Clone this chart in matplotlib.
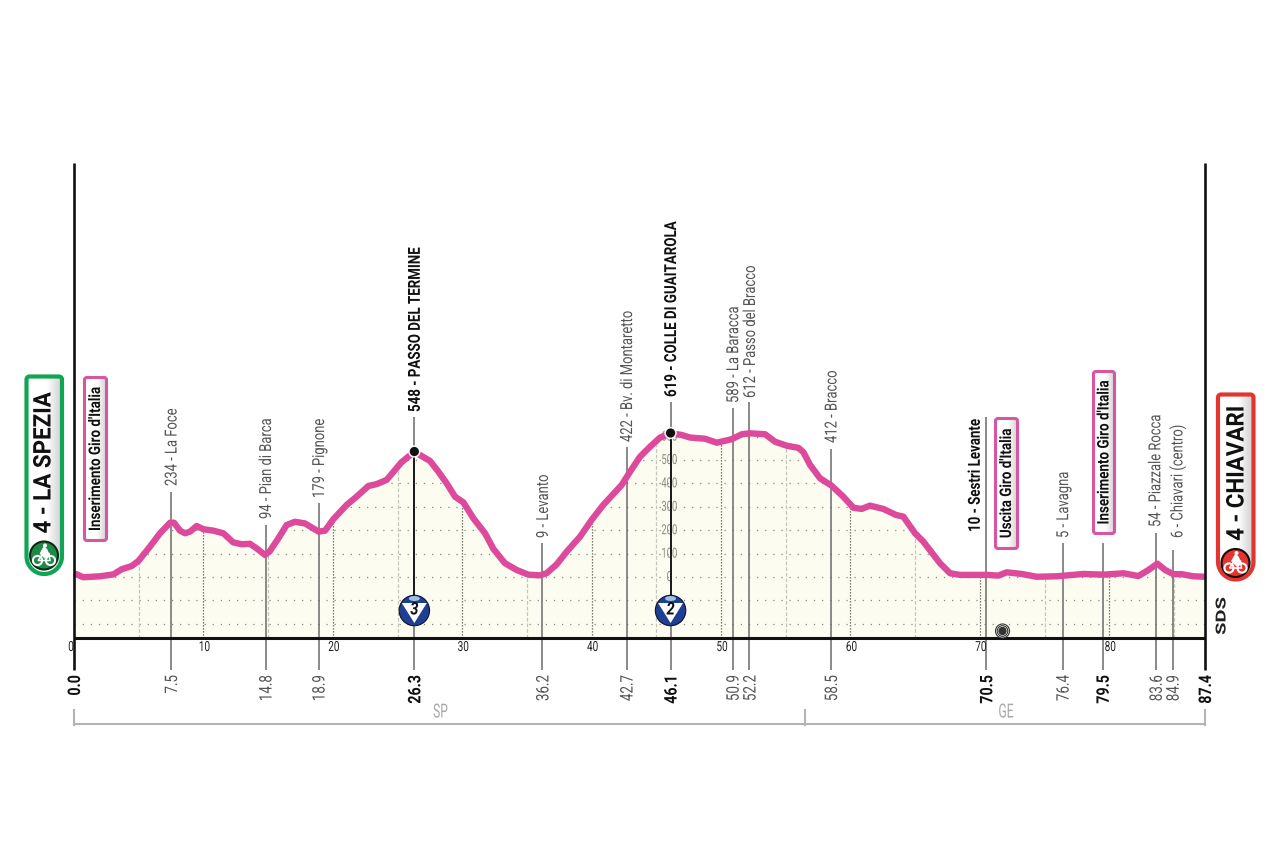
import numpy as np
import matplotlib
matplotlib.use("Agg")
import matplotlib.pyplot as plt
from matplotlib.patches import Circle, Polygon, FancyBboxPatch, Ellipse
from matplotlib.patheffects import AbstractPathEffect
from matplotlib.transforms import Affine2D, blended_transform_factory as blend

# ---- data -----------------------------------------------------------
profile_km = [0, .72, 2.0, 3.04, 3.68, 4.46, 4.97, 5.87, 6.65, 7.42, 7.73, 8.19, 8.58, 8.97, 9.48, 10.0, 10.77,
              11.54, 12.3, 12.96, 13.6, 14.1, 14.76, 15.14, 15.79, 16.43, 17.07, 17.85, 18.9, 19.4, 20.04,
              21.07, 21.85, 22.75, 23.39, 24.16, 25.3, 26.3, 26.74, 27.51, 28.16, 28.8, 29.45, 30.09, 30.86,
              31.76, 32.41, 33.3, 34.21, 35.11, 36.0, 36.52, 37.3, 38.07, 39.1, 40.0, 40.9, 42.32, 42.97,
              43.74, 44.52, 45.29, 46.11, 46.96, 47.6, 48.76, 49.67, 50.83, 51.6, 52.25, 53.41, 54.18, 55.08,
              55.98, 56.37, 56.88, 57.65, 58.55, 59.45, 60.23, 60.87, 61.51, 62.54, 63.53, 64.09, 64.99, 65.64,
              66.92, 67.7, 68.47, 70.53, 71.43, 72.08, 73.24, 74.4, 75.94, 78.0, 79.55, 81.1, 82.25, 83.03,
              83.72, 84.32, 84.96, 85.6, 86.5, 87.4]
profile_m = [16, -1, 3, 11, 33, 47, 68, 130, 187, 232, 232, 198, 187, 194, 218, 204, 198,
             187, 148, 140, 142, 123, 94, 111, 165, 222, 236, 229, 194, 198, 247,
             308, 344, 389, 397, 415, 490, 535, 521, 496, 450, 400, 343, 319, 251,
             187, 120, 59, 30, 10, 7, 16, 54, 108, 172, 244, 308, 393, 450,
             514, 557, 596, 614, 607, 596, 591, 574, 589, 610, 614, 610, 578, 561,
             552, 533, 479, 422, 390, 343, 296, 291, 305, 291, 265, 258, 187, 151,
             59, 16, 9, 9, 6, 20, 13, 1, 3, 13, 10, 16, 4, 30,
             57, 30, 12, 12, 3, 1]

stop_km = [7.5, 14.8, 18.9, 26.3, 36.2, 42.7, 46.1, 50.9, 52.2, 58.5, 70.5, 76.4, 79.5, 83.6, 84.9]
stop_km_text = ["7.5", "14.8", "18.9", "26.3", "36.2", "42.7", "46.1", "50.9", "52.2", "58.5",
                "70.5", "76.4", "79.5", "83.6", "84.9"]
stop_names = ["234 - La Foce", "94 - Pian di Barca", "179 - Pignone", "548 - PASSO DEL TERMINE",
              "9 - Levanto", "422 - Bv. di Montaretto", "619 - COLLE DI GUAITAROLA", "589 - La Baracca",
              "612 - Passo del Bracco", "412 - Bracco", "10 - Sestri Levante", "5 - Lavagna",
              "", "54 - Piazzale Rocca", "6 - Chiavari (centro)"]
stop_bold = [False, False, False, True, False, False, True, False, False, False, True, False, True, False, False]
climb_km = [26.3, 46.1]
climb_cat = ["3", "2"]
elev_ticks = [0, 100, 200, 300, 400, 500, 600]
km_ticks = [0, 10, 20, 30, 40, 50, 60, 70, 80]
total_km = 87.4
start_label, finish_label = "4 - LA SPEZIA", "4 - CHIAVARI"
province_labels = ["SP", "GE"]
province_border_km = 56.5
giro_notes = ["Inserimento Giro d'Italia", "Uscita Giro d'Italia", "Inserimento Giro d'Italia"]

# ---- layout (pixels of the 1280x852 picture) ------------------------
line_top = [492, 525, 503, 417, 543, 447, 402, 408, 402, 449, 417, 543, 543, 533, 550]
text_bottom = [486, 519, 498, 412, 538, 442, 397, 403, 398, 443, 532, 538, 0, 527, 538]
text_dx = [1, 1, 1, 1, 1, 1, 1, 1, 1, 1, -11, 1, 1, 0, 5]
note_boxes = [(83, 376, 108, 542), (994, 417, 1019, 550), (1092, 370, 1116, 535)]

PINK = "#dd4a9b"
FILL = "#fdfcf0"
GREY = "#555555"
plt.rcParams["font.family"] = ["Roboto", "DejaVu Sans"]

W, H = 1280, 852
fig = plt.figure(figsize=(W / 100, H / 100), dpi=100, facecolor="white")


class Narrow(AbstractPathEffect):
    """Draw a text condensed along its reading direction, about its anchor."""
    def __init__(self, text, s):
        super().__init__()
        self.text, self.s = text, s

    def draw_path(self, renderer, gc, tpath, affine, rgbFace=None):
        ax_, ay_ = self.text.get_transform().transform(self.text.get_position())
        if self.text.get_rotation() == 90:
            st = Affine2D().translate(0, -ay_).scale(1, self.s).translate(0, ay_)
        else:
            st = Affine2D().translate(-ax_, 0).scale(self.s, 1).translate(ax_, 0)
        renderer.draw_path(gc, tpath, affine + st, rgbFace)


def label(axes, x, y, s, narrow, **kw):
    t = axes.text(x, y, s, **kw)
    t.set_path_effects([Narrow(t, narrow)])
    return t


PX_KM = (1205 - 74) / total_km
PX_M = 0.234
Y0 = 577
ax = fig.add_axes([0, 0, 1, 1])
ax.set_xlim(-74 / PX_KM, (W - 74) / PX_KM)
ax.set_ylim((Y0 - H) / PX_M, Y0 / PX_M)
ax.axis("off")
px = fig.add_axes([0, 0, 1, 1], facecolor="none")
px.set_xlim(0, W)
px.set_ylim(H, 0)
px.axis("off")
tr = blend(ax.transData, px.transData)   # x = km, y = picture pixel
km2px = lambda k: 74 + k * PX_KM

base_m = (Y0 - 637.5) / PX_M

# profile area
fx = np.array(profile_km, float)
fy = np.array(profile_m, float)
ax.fill_between(fx, base_m, fy, color=FILL, lw=0, zorder=1)
clip = Polygon(np.r_[[[0, base_m]], np.c_[fx, fy], [[total_km, base_m]]], transform=ax.transData)

# grid
for lev in np.arange(-200, 601, 100):
    l = ax.plot([0, total_km], [lev, lev], color="#8a8a80", lw=.9, ls=(0, (1, 5.5)), zorder=2)[0]
    l.set_clip_path(clip)
for k in np.arange(5, total_km, 5):
    top = np.interp(k, fx, fy)
    if k % 10 == 0:
        ax.plot([k, k], [base_m, top], color="#55554d", lw=.9, ls=(0, (1, 1.4)), zorder=2)
    else:
        ax.plot([k, k], [base_m, top], color="#c6c6b8", lw=.9, ls=(0, (3, 1.5)), zorder=2)

# frame
ax.plot([0, total_km], [base_m, base_m], color="#111111", lw=2.2, zorder=5, solid_capstyle="butt")
for k in (0, total_km):
    px.plot([k, k], [163, 670], color="#111111", lw=1.9, transform=tr, zorder=6, solid_capstyle="butt")

# km ticks
for k in km_ticks:
    label(px, km2px(k) + (1 if k else -3), 647, str(k), .72, ha="center", va="center", fontsize=10,
          color="#222222", zorder=5)

# elevation ticks
for e in elev_ticks:
    label(ax, 46.0, e, str(e), .68, ha="center", va="center", fontsize=10, color="#8a8a80", zorder=3)

# stop lines, names, km labels
for k, kt, n, b, top, bot, dx in zip(stop_km, stop_km_text, stop_names, stop_bold, line_top, text_bottom, text_dx):
    ax.plot([k, k], [top, 670], color="#6a6a6a", lw=1.1, transform=tr, zorder=4, solid_capstyle="butt")
    w = "bold" if b else "normal"
    col = "#111111" if b else GREY
    label(px, km2px(k) + 1.5, 675, kt, .82 if b else .77, rotation=90, ha="center", va="top", fontsize=12.5,
          fontweight=w, color=col, zorder=6)
    if n:
        label(px, km2px(k) + dx, bot, n, .80 if b else .78, rotation=90, ha="center", va="bottom",
              fontsize=12, fontweight=w, color=col, zorder=6)
for k, kt in ((0, "0.0"), (total_km, "87.4")):
    label(px, km2px(k) + 1.5, 675, kt, .82, rotation=90, ha="center", va="top", fontsize=12.5,
          fontweight="bold", color="#111111", zorder=7)

# profile line
ax.plot(fx, fy, color=PINK, lw=4.6, solid_joinstyle="round", solid_capstyle="butt", zorder=7)


def gradient(patch, extent, c0="#ffffff", c1="#cccccc"):
    rgb0 = np.array(matplotlib.colors.to_rgb(c0))
    rgb1 = np.array(matplotlib.colors.to_rgb(c1))
    t = np.clip((np.linspace(0, 1, 60) - .55) / .45, 0, 1)[None, :, None]
    im = px.imshow(rgb0 + (rgb1 - rgb0) * t, extent=extent, aspect="auto", zorder=patch.get_zorder() - .1)
    im.set_clip_path(patch)


# climbs
for k, c, py in zip(climb_km, climb_cat, (451.5, 433)):
    X = km2px(k)
    px.plot([X, X], [py, 596], color="#111111", lw=1.3, zorder=8)
    px.add_patch(Circle((X, py), 6.2, fc="white", ec="none", zorder=8.5, alpha=.9))
    px.add_patch(Circle((X, py), 4.6, fc="#111111", ec="none", zorder=9))
    px.add_patch(Circle((X, 610.5), 15.2, fc="#1f3f95", ec="#111122", lw=.8, zorder=9))
    px.add_patch(Ellipse((X, 598.5), 11, 5, fc="#9cc0e6", ec="none", zorder=9.1))
    px.add_patch(Polygon([(X - 12.5, 603), (X + 12.5, 603), (X, 623)], fc="white", ec="none", zorder=9.2))
    label(px, X, 610, c, .85, ha="center", va="center", fontsize=12.5, fontweight="bold", style="italic",
          color="#111111", zorder=9.5)

# Giro notes
for (x0, y0, x1, y1), t in zip(note_boxes, giro_notes):
    p = FancyBboxPatch((x0 + 1.5, y0 + 1.5), x1 - x0 - 3, y1 - y0 - 3, boxstyle="round,pad=0,rounding_size=2.5",
                       fc="none", ec="#d8569f", lw=2.2, zorder=6)
    px.add_patch(p)
    gradient(p, (x0, x1, y1, y0))
    label(px, (x0 + x1) / 2, (y0 + y1) / 2, t, .84, rotation=90, ha="center", va="center", fontsize=11.5,
          fontweight="bold", color="#111111", zorder=7)


# start / finish flags
def flag(x0, x1, y0, y1, color):
    r = (x1 - x0) / 2
    cx = (x0 + x1) / 2
    a = np.linspace(0, np.pi, 40)
    corner = 3
    b = np.linspace(0, np.pi / 2, 8)
    verts = np.r_[
        np.c_[cx + r * np.cos(a), y1 - r + r * np.sin(a)],
        np.c_[x0 + corner - corner * np.cos(b), y0 + corner - corner * np.sin(b)],
        np.c_[x1 - corner + corner * np.sin(b), y0 + corner - corner * np.cos(b)],
    ]
    p = Polygon(verts, closed=True, fc="none", ec=color, lw=3, zorder=6, joinstyle="round")
    px.add_patch(p)
    gradient(p, (x0, x1, y1, y0))


def bike(cx, cy, disc, rim):
    px.add_patch(Circle((cx, cy), 14, fc=disc, ec=rim, lw=1.5, zorder=7))
    for dx in (-6.5, 6.5):
        px.add_patch(Circle((cx + dx, cy + 5), 4.6, fc="none", ec="white", lw=1.5, zorder=8))
    px.add_patch(Polygon([(cx - 6, cy + 5), (cx - 1, cy - 2), (cx + 5, cy - 2), (cx + 6, cy + 5), (cx, cy + 5)],
                         closed=True, fc="none", ec="white", lw=1.1, zorder=8))
    px.add_patch(Polygon([(cx - 4, cy - 2), (cx, cy - 9), (cx + 3, cy - 6), (cx + 5, cy - 1), (cx + 1, cy + 3)],
                         closed=True, fc="white", ec="white", lw=.5, zorder=8))
    px.add_patch(Circle((cx + 1, cy - 10), 2, fc="white", ec="none", zorder=8))


flag(26.5, 62, 376.5, 574, "#0fa554")
bike(44, 555.5, "#1d8a45", "#0b2a17")
label(px, 44, 463, start_label, .92, rotation=90, ha="center", va="center", fontsize=17.5, fontweight="bold",
      color="#111111", zorder=7)
flag(1218, 1253.5, 394.5, 579.5, "#e3342f")
bike(1235.5, 563, "#e3342f", "#1a0a0a")
label(px, 1237, 473.5, finish_label, .92, rotation=90, ha="center", va="center", fontsize=17.5, fontweight="bold",
      color="#111111", zorder=7)

# tunnel mark
for r, fc in ((7, "white"), (5.3, "white"), (3.6, "#333333")):
    px.add_patch(Circle((1002.5, 631), r, fc=fc, ec="#333333", lw=.8, zorder=8))

# credit
label(px, 1221.5, 616, "SDS", 1.45, rotation=90, ha="center", va="center", fontsize=10, fontweight="bold",
      color="#222222", zorder=6)

# province bracket
px.plot([0, total_km], [724, 724], color="#b4b4b8", lw=1.5, transform=tr, zorder=3)
for k, ytop in zip([0, province_border_km, total_km], (710, 710, 710)):
    px.plot([k, k], [ytop, 724.5], color="#b4b4b8", lw=1.5, transform=tr, zorder=3)
label(px, 440.5, 712.5, province_labels[0], .62, ha="center", va="center", fontsize=14, color="#a8a8ac")
label(px, 1006, 712.5, province_labels[1], .62, ha="center", va="center", fontsize=14, color="#a8a8ac")

px.set_xlim(0, W)
px.set_ylim(H, 0)
fig.savefig("out.png", dpi=100, facecolor="white")
